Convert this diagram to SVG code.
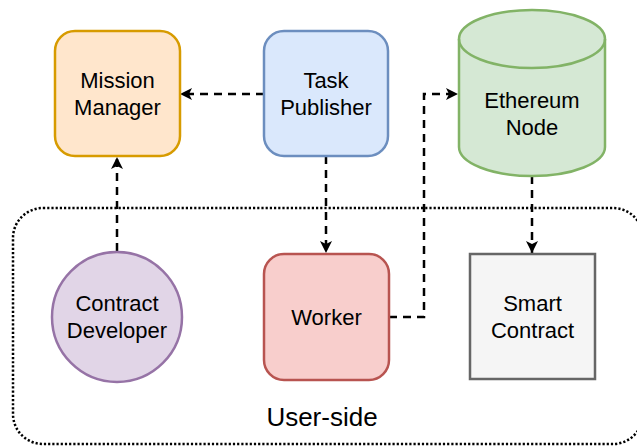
<svg xmlns="http://www.w3.org/2000/svg" width="637" height="446" viewBox="0 0 637 446">
<defs>
<marker id="arr" markerUnits="userSpaceOnUse" markerWidth="16" markerHeight="16" viewBox="-13 -8 16 16" refX="0" refY="0" orient="auto">
<path d="M0,0 L-12,-6 L-9,0 L-12,6 Z" fill="#000"/>
</marker>
</defs>
<style>
text{font-family:"Liberation Sans",Arial,Helvetica,sans-serif;font-size:22px;fill:#000;text-anchor:middle}
.n{stroke-width:2.5}
.c{fill:none;stroke:#000;stroke-width:2.5;stroke-dasharray:8 6}
</style>
<rect x="13" y="208" width="630" height="236" rx="30" fill="none" stroke="#000" stroke-width="2.5" stroke-dasharray="2.2 2"/>
<text x="322" y="426" style="font-size:26px">User-side</text>
<g id="connectors">
<path class="c" d="M264,94 L180,94" marker-end="url(#arr)"/>
<path class="c" d="M117,251 L117,157" marker-end="url(#arr)"/>
<path class="c" d="M326,156 L326,253" marker-end="url(#arr)"/>
<path class="c" d="M389,317 L424,317 L424,94 L458,94" marker-end="url(#arr)"/>
<path class="c" d="M532,176 L532,253" marker-end="url(#arr)"/>
</g>
<g id="mission-manager">
<rect class="n" x="55" y="31" width="125" height="125" rx="20" fill="#ffe6cc" stroke="#d79b00"/>
<text x="117.5" y="88">Mission</text>
<text x="117.5" y="115">Manager</text>
</g>
<g id="task-publisher">
<rect class="n" x="264" y="31" width="124" height="125" rx="20" fill="#dae8fc" stroke="#6c8ebf"/>
<text x="326" y="88">Task</text>
<text x="326" y="115">Publisher</text>
</g>
<g id="ethereum-node">
<path class="n" d="M459,39 A73,29 0 0 1 605,39 L605,147 A73,29 0 0 1 459,147 Z" fill="#d5e8d4" stroke="#82b366"/>
<path class="n" d="M459,39 A73,29 0 0 0 605,39" fill="none" stroke="#82b366"/>
<text x="532" y="108">Ethereum</text>
<text x="532" y="135">Node</text>
</g>
<g id="contract-developer">
<circle class="n" cx="117" cy="317" r="65" fill="#e1d5e7" stroke="#9673a6"/>
<text x="117" y="311">Contract</text>
<text x="117" y="338">Developer</text>
</g>
<g id="worker">
<rect class="n" x="264" y="254" width="125" height="126" rx="20" fill="#f8cecc" stroke="#b85450"/>
<text x="326.5" y="325">Worker</text>
</g>
<g id="smart-contract">
<rect class="n" x="470" y="254" width="125" height="125" fill="#f5f5f5" stroke="#666666"/>
<text x="532.5" y="311">Smart</text>
<text x="532.5" y="338">Contract</text>
</g>
</svg>
